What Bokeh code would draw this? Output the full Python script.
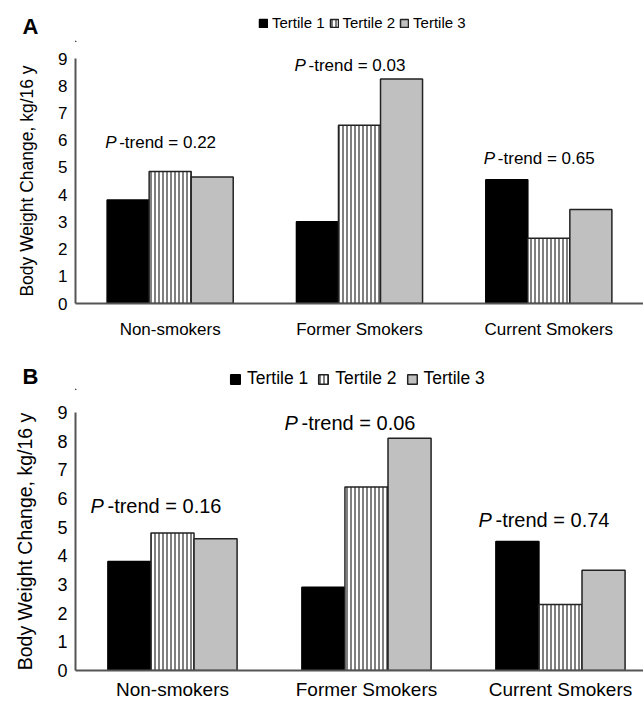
from bokeh.plotting import figure
from bokeh.models import Range1d, FixedTicker, Legend, LegendItem
from bokeh.layouts import column
from bokeh.embed import file_html
from bokeh.resources import INLINE
from bokeh.core.properties import value

groups = ["Non-smokers", "Former Smokers", "Current Smokers"]
tertiles = ["Tertile 1", "Tertile 2", "Tertile 3"]
y_ticks = list(range(10))

# Panel A
a_t1 = [3.8, 3.0, 4.55]
a_t2 = [4.85, 6.55, 2.4]
a_t3 = [4.65, 8.25, 3.45]
a_ptrend = ["0.22", "0.03", "0.65"]
a_ptrend_y = [5.92, 8.75, 5.33]

# Panel B
b_t1 = [3.8, 2.9, 4.5]
b_t2 = [4.8, 6.4, 2.3]
b_t3 = [4.6, 8.1, 3.5]
b_ptrend = ["0.16", "0.06", "0.74"]
b_ptrend_y = [5.74, 8.63, 5.26]

FONT = "Liberation Sans"
BAR_W = 0.222
W = 643
LEFT = 75

STYLES = [
    dict(fill_color="black", line_color="black"),
    dict(fill_color="white", line_color="#222222", hatch_pattern="vertical_line",
         hatch_color="black", hatch_scale=4, hatch_weight=1),
    dict(fill_color="#c0c0c0", line_color="#222222"),
]


def make_header(letter, height, letter_y, legend_loc, cfg):
    h = figure(width=W, height=height, output_backend="svg", toolbar_location=None,
               x_range=Range1d(0, W - LEFT), y_range=Range1d(0, height),
               x_axis_type=None)
    h.min_border_left = LEFT
    h.min_border_right = h.min_border_top = h.min_border_bottom = 0
    h.outline_line_color = None
    h.ygrid.visible = False
    h.background_fill_color = "white"
    # panel letter drawn as the single tick label of a hidden axis
    ax = h.yaxis[0]
    ax.ticker = FixedTicker(ticks=[letter_y])
    ax.major_label_overrides = {letter_y: letter}
    ax.major_label_text_font = FONT
    ax.major_label_text_font_style = "bold"
    ax.major_label_text_font_size = "22px"
    ax.major_label_text_color = "black"
    ax.major_label_standoff = 37
    ax.axis_line_color = None
    ax.major_tick_line_color = None
    ax.minor_tick_line_color = None
    ax.major_tick_out = 0
    ax.major_tick_in = 0
    # legend proxies (off-range, only used for their legend swatches)
    rs = [h.vbar(x=[-100], top=[1], width=1, line_width=1.5, **s) for s in STYLES]
    legend = Legend(items=[LegendItem(label=t, renderers=[r]) for t, r in zip(tertiles, rs)],
                    location=legend_loc, orientation="horizontal", margin=0, padding=0,
                    spacing=cfg["spacing"], label_standoff=cfg["standoff"],
                    glyph_width=cfg["glyph"], glyph_height=cfg["glyph"],
                    label_height=cfg["glyph"], label_text_font=FONT,
                    label_text_font_size=cfg["font"], label_text_color="black",
                    label_text_baseline="middle",
                    border_line_color=None, background_fill_alpha=0)
    h.add_layout(legend)
    return h


def make_panel(t1, t2, t3, ptr, ptr_y, x_end, height, border_top, border_bottom,
               fs, p_off, x_standoff):
    p = figure(width=W, height=height, output_backend="svg",
               toolbar_location=None, x_range=Range1d(0, x_end),
               y_range=Range1d(0, 9))
    p.min_border_left = LEFT
    p.min_border_right = 0
    p.min_border_top = border_top
    p.min_border_bottom = border_bottom
    p.outline_line_color = None
    p.xgrid.visible = False
    p.ygrid.visible = False
    p.background_fill_color = "white"

    centers = [i + 0.5 for i in range(len(groups))]
    for k, vals in enumerate([t1, t2, t3]):
        xs = [c + (k - 1) * BAR_W for c in centers]
        p.vbar(x=xs, top=vals, bottom=0, width=BAR_W, line_width=1.5, **STYLES[k])

    # P-trend annotations
    p.text(x=centers, y=ptr_y, text=["P"] * 3, x_offset=p_off[0],
           text_align="left", text_baseline="middle", text_font=value(FONT),
           text_font_style="italic", text_font_size=fs["ptrend"], text_color="black")
    p.text(x=centers, y=ptr_y, text=["-trend = " + s for s in ptr], x_offset=p_off[1],
           text_align="left", text_baseline="middle", text_font=value(FONT),
           text_font_size=fs["ptrend"], text_color="black")

    for ax in (p.xaxis[0], p.yaxis[0]):
        ax.axis_line_color = "#555555"
        ax.axis_line_width = 2
        ax.major_tick_line_color = None
        ax.minor_tick_line_color = None
        ax.major_tick_out = 0
        ax.major_tick_in = 0
        ax.major_label_text_font = FONT
        ax.major_label_text_color = "black"

    p.yaxis.ticker = FixedTicker(ticks=y_ticks)
    p.yaxis.major_label_text_font_size = fs["ytick"]
    p.yaxis.major_label_standoff = 8
    p.yaxis.axis_label = "Body Weight Change, kg/16 y"
    p.yaxis.axis_label_text_font = FONT
    p.yaxis.axis_label_text_font_style = "normal"
    p.yaxis.axis_label_text_font_size = fs["ylabel"]
    p.yaxis.axis_label_text_color = "black"
    p.yaxis.axis_label_standoff = 18

    p.xaxis.ticker = FixedTicker(ticks=centers)
    p.xaxis.major_label_overrides = {c: g for c, g in zip(centers, groups)}
    p.xaxis.major_label_text_font_size = fs["xtick"]
    p.xaxis.major_label_standoff = x_standoff
    return p


ha = make_header("A", 42, 16, (183, 11),
                 dict(font="15px", spacing=4, standoff=4, glyph=10))
pa = make_panel(a_t1, a_t2, a_t3, a_ptrend, a_ptrend_y, 3.0, 303, 16, 42,
                dict(ptrend="17px", ytick="17px", ylabel="17.5px", xtick="17px"),
                (-65, -51), 16)

hb = make_header("B", 45, 14, (154, 1),
                 dict(font="17.5px", spacing=9, standoff=6, glyph=12))
pb = make_panel(b_t1, b_t2, b_t3, b_ptrend, b_ptrend_y, 2.928, 312, 22, 30,
                dict(ptrend="20px", ytick="18px", ylabel="19.5px", xtick="19px"),
                (-82, -65), 8)

layout = column(ha, pa, hb, pb, spacing=0)
open("out.html", "w").write(file_html(layout, INLINE))
